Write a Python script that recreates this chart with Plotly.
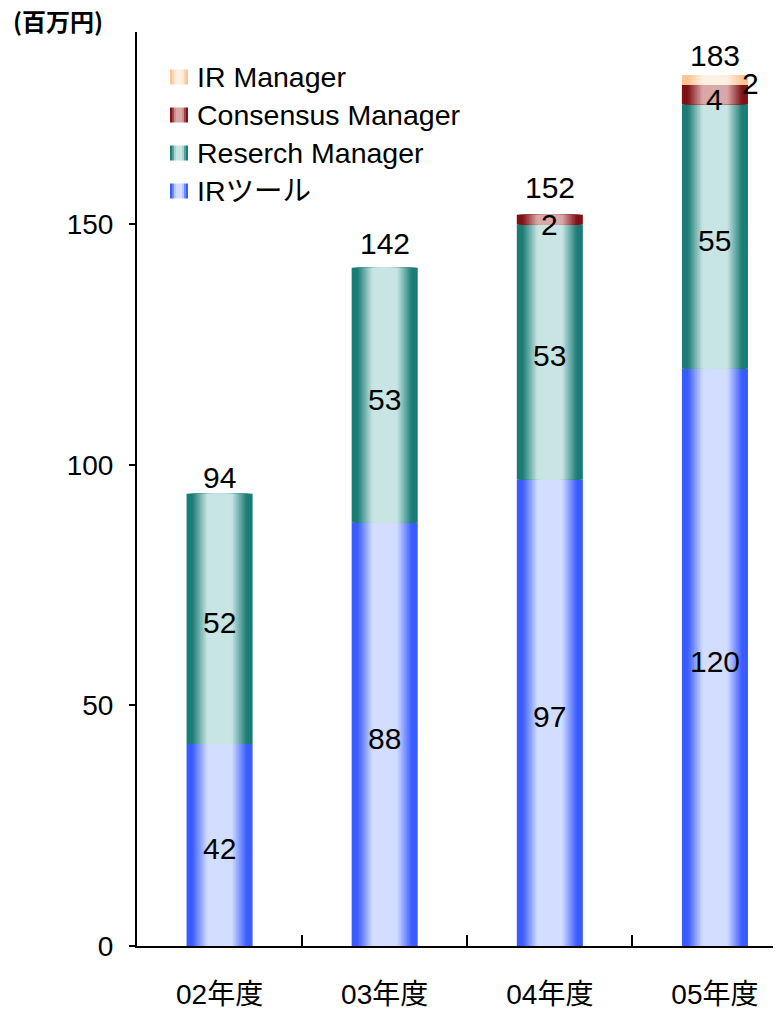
import plotly.graph_objects as go

# ---- data ----
categories = ["02年度", "03年度", "04年度", "05年度"]
ir_tool = [42, 88, 97, 120]
reserch_manager = [52, 53, 53, 55]
consensus_manager = [0, 0, 2, 4]
ir_manager = [0, 0, 0, 2]
totals = [94, 142, 152, 183]
series_names = ["IRツール", "Reserch Manager", "Consensus Manager", "IR Manager"]
y_tick_values = [0, 50, 100, 150]
unit_label = "(百万円)"

series_values = [ir_tool, reserch_manager, consensus_manager, ir_manager]
edge_colors = [(58, 92, 255), (28, 124, 118), (128, 18, 22), (255, 196, 146)]
center_colors = [(210, 221, 255), (200, 229, 228), (218, 168, 168), (255, 240, 228)]

# style: pixel lift of each total label's centre above its bar top
total_label_lift = [14, 22, 25, 18]

FONT = "Liberation Sans, Arial, Noto Sans CJK JP, sans-serif"
BAR_W = 0.4
LAYERS = 22

# geometry: page has an 8px body margin
OFF = 8
W, H = 781 - OFF, 1010 - OFF
L, R, T, B = 129, 0, 24, 64
PW, PH = W - L - R, H - T - B
XR = 3.9  # x range span (categories)


def px_x(px):
    return (px - OFF - L) / PW


def px_y(py):
    return (T + PH - (py - OFF)) / PH


def mix(a, b, t):
    return "rgb(%d,%d,%d)" % tuple(round(a[i] + (b[i] - a[i]) * t) for i in range(3))


def shade(edge, center, r):
    t = (0.82 - r) / 0.45
    t = max(0.0, min(1.0, t))
    return mix(edge, center, t)


fig = go.Figure()

bases = []
run = [0] * len(categories)
for vals in series_values:
    bases.append(list(run))
    run = [run[i] + vals[i] for i in range(len(vals))]

for s, vals in enumerate(series_values):
    for k in range(LAYERS):
        r = 1 - k / LAYERS
        rc = r - 0.5 / LAYERS
        fig.add_trace(go.Bar(
            x=categories, y=vals, base=bases[s], width=BAR_W * r,
            marker=dict(color=shade(edge_colors[s], center_colors[s], rc), line=dict(width=0)),
            showlegend=False, hoverinfo="skip", name=series_names[s],
        ))

annotations = []
lab_font = dict(family=FONT, size=30, color="black")
bar_half_px = BAR_W / 2 * PW / XR

for s, vals in enumerate(series_values):
    for i, v in enumerate(vals):
        if v <= 0:
            continue
        yc = bases[s][i] + v / 2
        if s == 3:
            annotations.append(dict(x=categories[i], y=yc, text=str(v), showarrow=False,
                                    xanchor="left", xshift=bar_half_px - 8, yshift=-3,
                                    font=lab_font))
        else:
            annotations.append(dict(x=categories[i], y=yc, text=str(v), showarrow=False,
                                    yshift=-4 if s < 2 else -5, font=lab_font))

for i, t in enumerate(totals):
    top = sum(v[i] for v in series_values)
    annotations.append(dict(x=categories[i], y=top, text=str(t), showarrow=False,
                            yanchor="middle", yshift=total_label_lift[i] + 2, font=lab_font))

annotations.append(dict(xref="paper", yref="paper", x=px_x(58), y=px_y(21),
                        xanchor="center", yanchor="middle", borderpad=0,
                        text="<b>" + unit_label + "</b>", showarrow=False,
                        font=dict(family="Noto Sans CJK JP", size=24, color="black")))

shapes = []
rows_y = [77, 115, 153, 191]
legend_order = [3, 2, 1, 0]
sw_x0, sw_w, sw_h = 170, 18, 15
n_str = 9
for row, s in zip(rows_y, legend_order):
    for j in range(n_str):
        x0 = sw_x0 + sw_w * j / n_str
        x1 = sw_x0 + sw_w * (j + 1) / n_str
        rr = abs((x0 + x1) / 2 - (sw_x0 + sw_w / 2)) / (sw_w / 2)
        shapes.append(dict(type="rect", xref="paper", yref="paper",
                           x0=px_x(x0), x1=px_x(x1),
                           y0=px_y(row + sw_h / 2), y1=px_y(row - sw_h / 2),
                           fillcolor=shade(edge_colors[s], center_colors[s], rr),
                           line=dict(width=0), layer="above"))
    annotations.append(dict(xref="paper", yref="paper", x=px_x(195), y=px_y(row),
                            xanchor="left", yanchor="middle", text=series_names[s], showarrow=False,
                            font=dict(family=FONT, size=28.5, color="black")))

fig.update_layout(
    width=W, height=H,
    margin=dict(l=L, r=R, t=T, b=B, pad=0, autoexpand=False),
    barmode="overlay",
    plot_bgcolor="white", paper_bgcolor="white",
    showlegend=False,
    annotations=annotations,
    shapes=shapes,
    font=dict(family=FONT, size=26, color="black"),
)
fig.update_xaxes(
    type="category", range=[-0.5, -0.5 + XR], tickson="boundaries", automargin=False,
    ticks="inside", ticklen=11, tickwidth=2, tickcolor="black",
    showline=True, linewidth=2, linecolor="black", showgrid=False, zeroline=False,
    tickfont=dict(family=FONT, size=28, color="black"), ticklabelstandoff=22,
)
fig.update_yaxes(
    range=[0, 190], tickvals=y_tick_values, automargin=False,
    ticks="outside", ticklen=6, tickwidth=2, tickcolor="black",
    showline=True, linewidth=2, linecolor="black", showgrid=False, zeroline=False,
    tickfont=dict(family=FONT, size=28, color="black"), ticklabelstandoff=10,
)

fig.write_html("out.html")
